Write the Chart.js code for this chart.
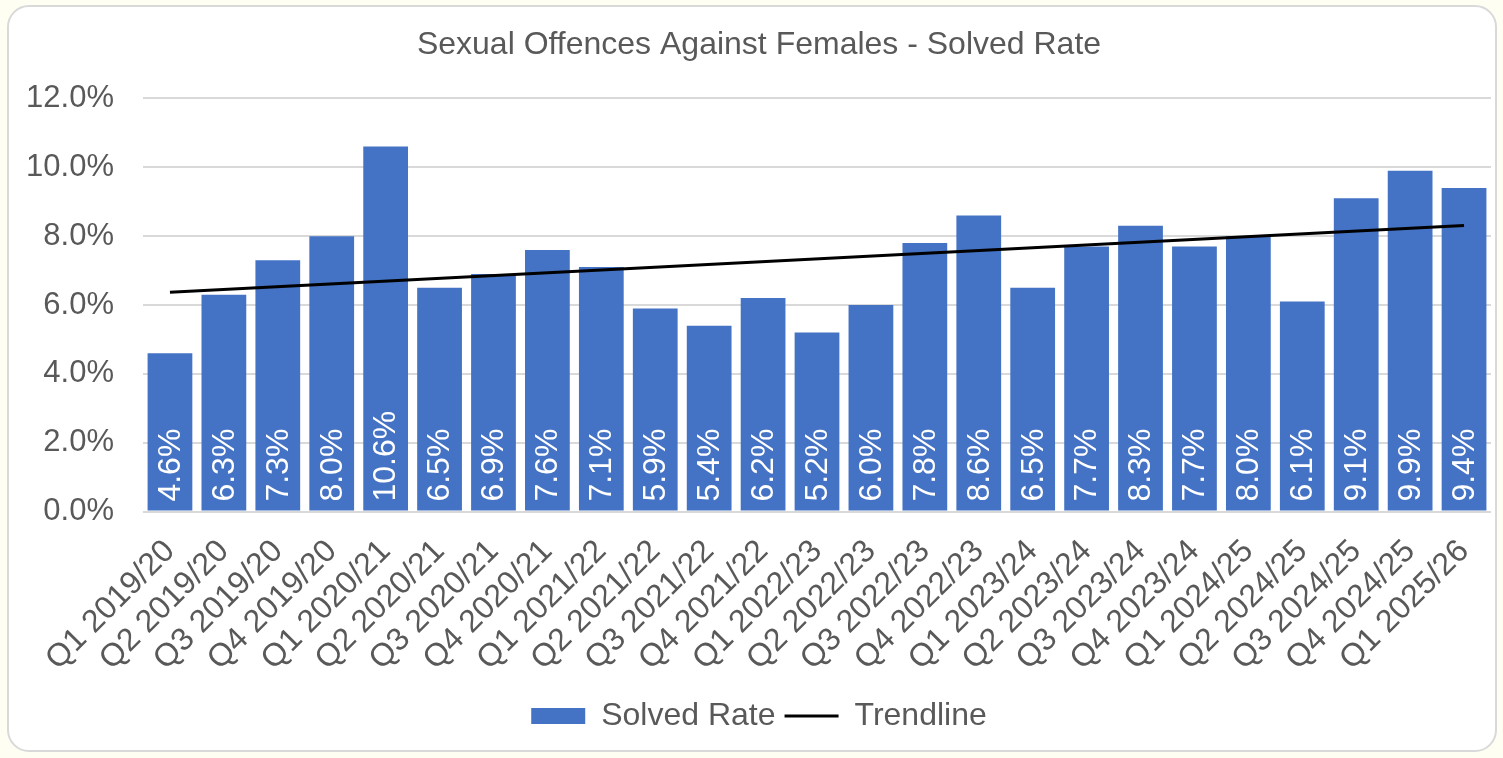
<!DOCTYPE html>
<html>
<head>
<meta charset="utf-8">
<script src="https://cdn.jsdelivr.net/npm/chart.js@4"></script>
<style>
  body { margin: 0; background: #fefef2; }
  #card {
    position: absolute; left: 7px; top: 5px; width: 1486px; height: 743px;
    background: #fff; border: 2px solid #d9d9d9; border-radius: 22px; overflow: hidden;
  }
  #chart { display: block; }
</style>
</head>
<body>
<div id="card"><canvas id="chart" width="1486" height="743"></canvas></div>
<script>
const quarters = [
  'Q1 2019/20', 'Q2 2019/20', 'Q3 2019/20', 'Q4 2019/20',
  'Q1 2020/21', 'Q2 2020/21', 'Q3 2020/21', 'Q4 2020/21',
  'Q1 2021/22', 'Q2 2021/22', 'Q3 2021/22', 'Q4 2021/22',
  'Q1 2022/23', 'Q2 2022/23', 'Q3 2022/23', 'Q4 2022/23',
  'Q1 2023/24', 'Q2 2023/24', 'Q3 2023/24', 'Q4 2023/24',
  'Q1 2024/25', 'Q2 2024/25', 'Q3 2024/25', 'Q4 2024/25',
  'Q1 2025/26'
];
const solvedRate = [
  4.6, 6.3, 7.3, 8.0, 10.6, 6.5, 6.9, 7.6, 7.1, 5.9, 5.4, 6.2, 5.2,
  6.0, 7.8, 8.6, 6.5, 7.7, 8.3, 7.7, 8.0, 6.1, 9.1, 9.9, 9.4
];
// trendline: only the two ends; the rest is spanned
const trendStart = 6.37;
const trendEnd = 8.31;
const trendline = quarters.map((q, i) => i === 0 ? trendStart : (i === quarters.length - 1 ? trendEnd : null));

const yTicks = [0, 2, 4, 6, 8, 10, 12];

const textColor = '#595959';
const fontFamily = "'Liberation Sans', Arial, sans-serif";

// white value labels, rotated, sitting at the bottom of each bar
const barLabels = {
  id: 'barLabels',
  afterDatasetsDraw(chart) {
    const meta = chart.getDatasetMeta(0);
    const ctx = chart.ctx;
    ctx.save();
    ctx.fillStyle = '#ffffff';
    ctx.font = '32px ' + fontFamily;
    ctx.textAlign = 'left';
    ctx.textBaseline = 'middle';
    meta.data.forEach((bar, i) => {
      ctx.save();
      ctx.translate(bar.x, bar.base - 9);
      ctx.rotate(-Math.PI / 2);
      ctx.fillText(solvedRate[i].toFixed(1) + '%', 0, 1);
      ctx.restore();
    });
    ctx.restore();
  }
};

new Chart(document.getElementById('chart').getContext('2d'), {
  data: {
    labels: quarters,
    datasets: [
      {
        type: 'bar',
        label: 'Solved Rate',
        data: solvedRate,
        backgroundColor: '#4472C4',
        barPercentage: 0.83,
        categoryPercentage: 1.0,
        pointStyle: 'rect',
        order: 1
      },
      {
        type: 'line',
        label: 'Trendline',
        data: trendline,
        borderColor: '#000000',
        backgroundColor: '#000000',
        borderWidth: 3,
        pointRadius: 0,
        pointStyle: 'line',
        spanGaps: true,
        order: 0
      }
    ]
  },
  options: {
    responsive: false,
    animation: false,
    layout: { autoPadding: false, padding: { left: 18, right: 4, top: 0, bottom: 8 } },
    plugins: {
      title: {
        display: true,
        text: 'Sexual Offences Against Females - Solved Rate',
        color: textColor,
        font: { family: fontFamily, size: 32, weight: 'normal' },
        padding: { top: 19, bottom: 34 }
      },
      legend: {
        position: 'bottom',
        labels: {
          color: textColor,
          font: { family: fontFamily, size: 32 },
          usePointStyle: true,
          pointStyleWidth: 54,
          boxHeight: 16,
          padding: 9,
          sort: (a, b) => a.datasetIndex - b.datasetIndex
        }
      },
      tooltip: { enabled: false }
    },
    scales: {
      x: {
        grid: { display: false },
        border: { display: false },
        afterFit(scale) { scale.paddingLeft = 0; scale.paddingRight = 0; },
        ticks: {
          color: textColor,
          font: { family: fontFamily, size: 32 },
          minRotation: 45,
          maxRotation: 45,
          autoSkip: false,
          padding: 13
        }
      },
      y: {
        min: yTicks[0],
        max: yTicks[yTicks.length - 1],
        afterBuildTicks(scale) { scale.ticks = yTicks.map(v => ({ value: v })); },
        afterFit(scale) { scale.width = 116; },
        grid: { color: '#d9d9d9', lineWidth: 2, drawTicks: false },
        border: { display: false },
        ticks: {
          color: textColor,
          font: { family: fontFamily, size: 31 },
          padding: 29,
          callback: v => v.toFixed(1) + '%'
        }
      }
    }
  },
  plugins: [barLabels]
});
</script>
</body>
</html>
